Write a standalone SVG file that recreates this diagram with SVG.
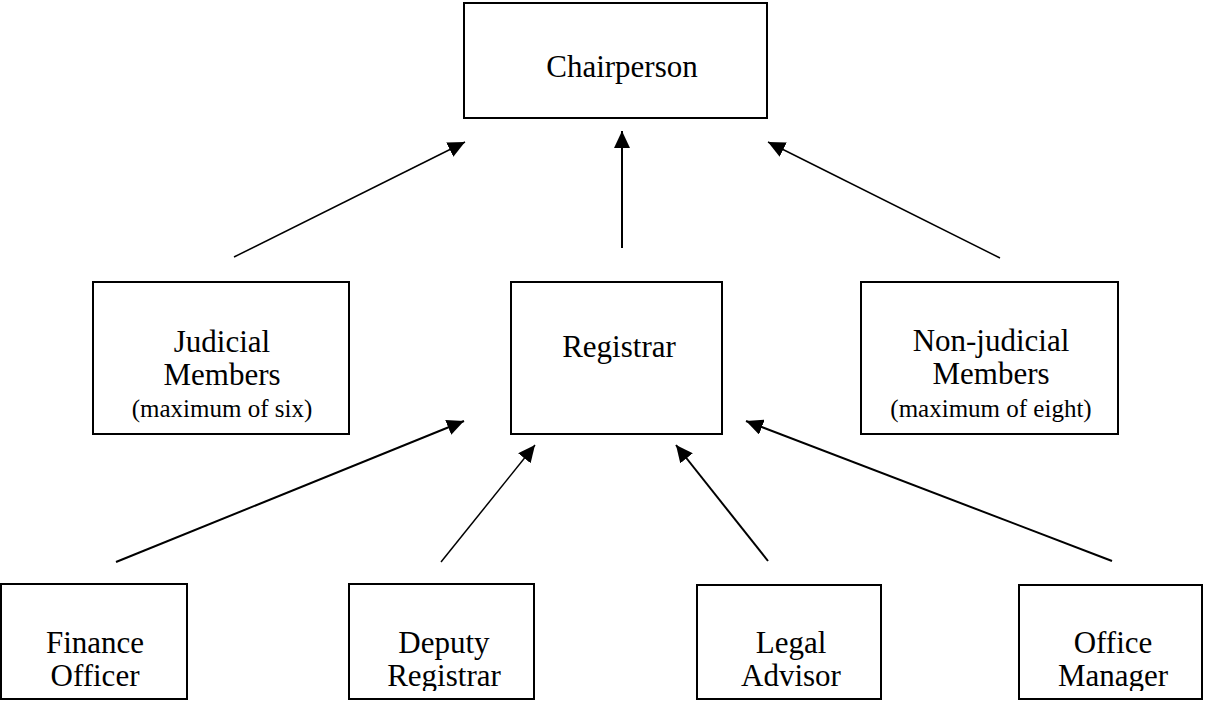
<svg xmlns="http://www.w3.org/2000/svg" width="1209" height="702" viewBox="0 0 1209 702">
<style>
.box{fill:#fff;stroke:#000;stroke-width:2}
.t{font-family:"Liberation Serif","Times New Roman",serif;font-size:31px;fill:#000;text-anchor:middle}
.s{font-family:"Liberation Serif","Times New Roman",serif;font-size:25px;fill:#000;text-anchor:middle}
.c{stroke:#000;stroke-width:2;fill:none;marker-end:url(#ah)}
</style>
<defs>
<marker id="ah" markerUnits="userSpaceOnUse" markerWidth="18" markerHeight="16" refX="17" refY="8" orient="auto">
<path d="M0,0 L17,8 L0,16 Z" fill="#000"/>
</marker>
<clipPath id="bclip"><rect x="0" y="580" width="1209" height="111"/></clipPath>
</defs>
<rect width="1209" height="702" fill="#fff"/>
<g id="connectors">
<line class="c" x1="234" y1="257" x2="465" y2="142" style="stroke-width:1.5"/>
<line class="c" x1="622" y1="248" x2="622" y2="131"/>
<line class="c" x1="1000" y1="258" x2="768" y2="142" style="stroke-width:1.5"/>
<line class="c" x1="116" y1="562" x2="464" y2="421"/>
<line class="c" x1="441" y1="562" x2="535" y2="445" style="stroke-width:1.5"/>
<line class="c" x1="768" y1="561" x2="676" y2="445"/>
<line class="c" x1="1112" y1="561" x2="746" y2="421"/>
</g>
<g id="chairperson">
<rect class="box" x="464" y="3" width="303" height="115"/>
<text class="t" x="622" y="77">Chairperson</text>
</g>
<g id="judicial">
<rect class="box" x="93" y="282" width="256" height="152"/>
<text class="t" x="222" y="352">Judicial</text>
<text class="t" x="222" y="385">Members</text>
<text class="s" x="222" y="417">(maximum of six)</text>
</g>
<g id="registrar">
<rect class="box" x="511" y="282" width="211" height="152"/>
<text class="t" x="619" y="357">Registrar</text>
</g>
<g id="nonjudicial">
<rect class="box" x="861" y="282" width="257" height="152"/>
<text class="t" x="991" y="351">Non-judicial</text>
<text class="t" x="991" y="384">Members</text>
<text class="s" x="991" y="417">(maximum of eight)</text>
</g>
<g id="finance">
<rect class="box" x="1" y="584" width="186" height="115"/>
<g clip-path="url(#bclip)">
<text class="t" x="95" y="653">Finance</text>
<text class="t" x="95" y="686">Officer</text>
</g>
</g>
<g id="deputy">
<rect class="box" x="349" y="584" width="185" height="115"/>
<g clip-path="url(#bclip)">
<text class="t" x="444" y="653">Deputy</text>
<text class="t" x="444" y="686">Registrar</text>
</g>
</g>
<g id="legal">
<rect class="box" x="697" y="585" width="184" height="114"/>
<g clip-path="url(#bclip)">
<text class="t" x="791" y="653">Legal</text>
<text class="t" x="791" y="686">Advisor</text>
</g>
</g>
<g id="office">
<rect class="box" x="1019" y="585" width="183" height="114"/>
<g clip-path="url(#bclip)">
<text class="t" x="1113" y="653">Office</text>
<text class="t" x="1113" y="686">Manager</text>
</g>
</g>
</svg>
